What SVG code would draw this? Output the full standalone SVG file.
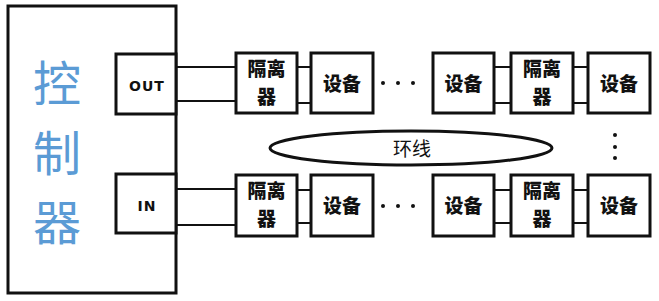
<svg xmlns="http://www.w3.org/2000/svg" width="659" height="301" viewBox="0 0 659 301">
<style>
.box{fill:#fff;stroke:#111;stroke-width:3}
.ln{stroke:#111;stroke-width:2;fill:none}
.t{font-family:"Noto Sans CJK SC","Noto Sans",sans-serif;font-weight:900;font-size:19px;fill:#111;text-anchor:middle}
.p{font-family:"DejaVu Sans","Liberation Sans",sans-serif;font-weight:bold;font-size:14px;fill:#111;text-anchor:middle;letter-spacing:1px}
.c{font-family:"Noto Sans CJK SC",sans-serif;font-size:48px;fill:#5b9bd5;text-anchor:middle}
.dot{fill:#111}
</style>
<rect width="659" height="301" fill="#fff"/>
<g id="controller">
<rect class="box" x="8" y="6" width="168" height="287"/>
<text class="c" x="57" y="101">控</text>
<text class="c" x="57" y="171">制</text>
<text class="c" x="57" y="240">器</text>
</g>
<g id="out"><rect class="box" x="116" y="54" width="60" height="60"/><text class="p" x="147" y="91">OUT</text></g>
<g id="in"><rect class="box" x="116" y="174" width="60" height="59"/><text class="p" x="147" y="211">IN</text></g>
<g id="connectors">
<path class="ln" d="M176 67H236M176 101H236M297 67H311M297 103H311M494 67H511M494 103H511M573 67H588M573 103H588"/>
<path class="ln" d="M176 189H236M176 225H236M297 190H311M297 223H311M494 190H511M494 223H511M573 190H588M573 223H588"/>
</g>
<g id="iso1"><rect class="box" x="236" y="53" width="61" height="60"/><text class="t" x="266.5" y="76">隔离</text><text class="t" x="266.5" y="104">器</text></g>
<g id="dev1"><rect class="box" x="311" y="53" width="62" height="60"/><text class="t" x="342" y="91">设备</text></g>
<g id="dev2"><rect class="box" x="433" y="53" width="61" height="60"/><text class="t" x="463.5" y="91">设备</text></g>
<g id="iso2"><rect class="box" x="511" y="53" width="62" height="60"/><text class="t" x="542" y="76">隔离</text><text class="t" x="542" y="104">器</text></g>
<g id="dev3"><rect class="box" x="588" y="53" width="62" height="60"/><text class="t" x="619" y="91">设备</text></g>
<g id="iso3"><rect class="box" x="236" y="175" width="61" height="61"/><text class="t" x="266.5" y="198">隔离</text><text class="t" x="266.5" y="226">器</text></g>
<g id="dev4"><rect class="box" x="311" y="175" width="62" height="61"/><text class="t" x="342" y="213">设备</text></g>
<g id="dev5"><rect class="box" x="433" y="175" width="61" height="61"/><text class="t" x="463.5" y="213">设备</text></g>
<g id="iso4"><rect class="box" x="511" y="175" width="62" height="61"/><text class="t" x="542" y="198">隔离</text><text class="t" x="542" y="226">器</text></g>
<g id="dev6"><rect class="box" x="588" y="175" width="62" height="61"/><text class="t" x="619" y="213">设备</text></g>
<g id="dots">
<circle class="dot" cx="383" cy="83" r="2"/><circle class="dot" cx="398" cy="83" r="2"/><circle class="dot" cx="413" cy="83" r="2"/>
<circle class="dot" cx="383" cy="206" r="2"/><circle class="dot" cx="398" cy="206" r="2"/><circle class="dot" cx="413" cy="206" r="2"/>
<circle class="dot" cx="615" cy="135" r="2"/><circle class="dot" cx="615" cy="147" r="2"/><circle class="dot" cx="615" cy="158" r="2"/>
</g>
<g id="ring">
<ellipse cx="411" cy="148" rx="141" ry="17" fill="#fff" stroke="#111" stroke-width="3"/>
<text x="412" y="156" font-family="'Noto Sans CJK SC',sans-serif" font-size="19" fill="#111" text-anchor="middle">环线</text>
</g>
</svg>
